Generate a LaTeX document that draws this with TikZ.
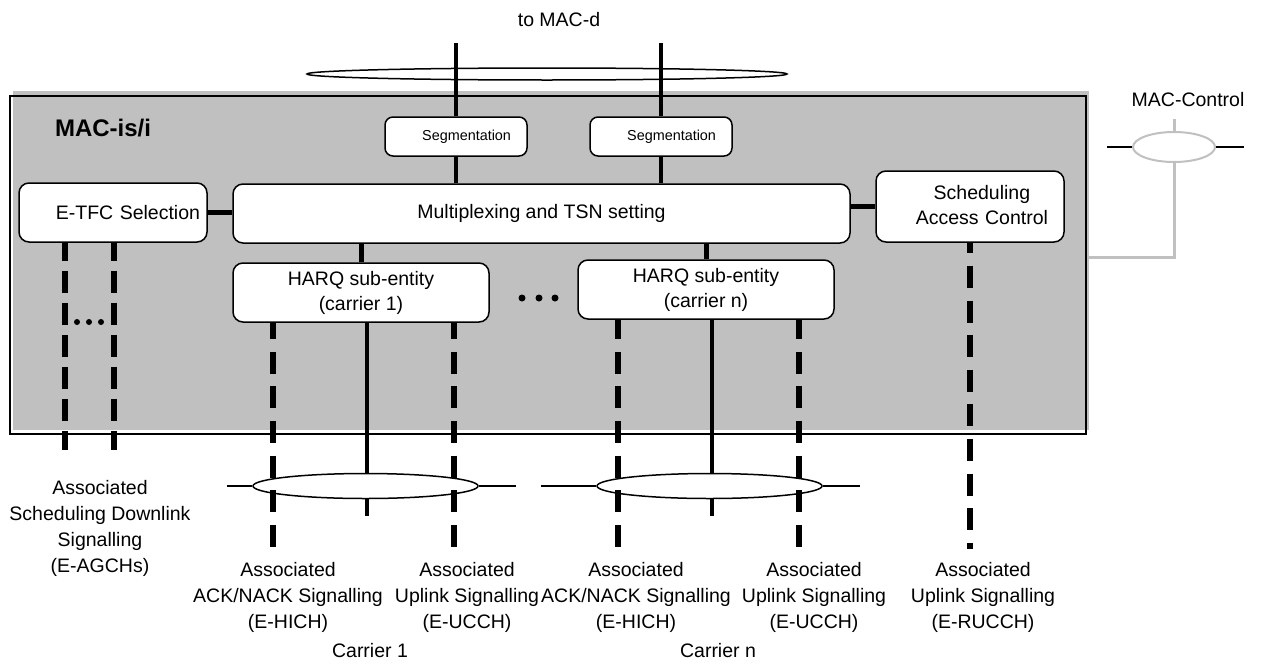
\documentclass[tikz,border=0pt]{standalone}
\usepackage{fontspec}
\setmainfont{Liberation Sans}
\usetikzlibrary{shapes.geometric}
\definecolor{macgray}{RGB}{192,192,192}

\tikzset{
  mbox/.style={draw, rounded corners=5pt, line width=0.75pt, fill=white, align=center, inner sep=0pt, font=\fontsize{9.75}{12.5}\selectfont},
  mseg/.style={draw, rounded corners=4pt, line width=0.75pt, fill=white, text width=55pt, align=right, inner xsep=8pt, inner ysep=0pt, minimum height=19.5pt, font=\fontsize{7.2}{9}\selectfont},
  mbus/.style={draw, ellipse, fill=white, line width=0.75pt, inner sep=0pt},
  mline/.style={line width=2pt},
  mlink/.style={line width=2.5pt},
  msig/.style={line width=3pt, dash pattern=on 11pt off 6.3pt},
  mtap/.style={line width=1pt},
  mctl/.style={macgray, line width=1.5pt},
  mlab/.style={align=center, font=\fontsize{9.75}{13}\selectfont}
}

\begin{document}
\begin{tikzpicture}[x=0.5pt,y=-0.5pt]
  \useasboundingbox (0,0) rectangle (1261,664);

  \fill[macgray] (13,91) rectangle (1089,430);
  \draw[line width=1pt] (10,96) rectangle (1086,434);
  \node[anchor=west, font=\fontsize{12}{14}\selectfont\bfseries] (title) at (48,128) {MAC-is/i};

  \node[mlab] (macd) at (559,20) {to MAC-d};
  \coordinate (dtop) at (559,43);
  \node[mbus, minimum width=240pt, minimum height=6pt] (dbus) at (547,74) {};

  \node[mseg] (seg1) at (456,136.5) {Segmentation};
  \node[mseg] (seg2) at (661,136.5) {Segmentation};
  \node[mbox, minimum width=308.5pt, minimum height=29.5pt] (mux) at (541.5,213.5) {Multiplexing and TSN setting};
  \node[mbox, text width=87pt, align=right, inner xsep=3.5pt, minimum height=29.5pt] (etfc) at (113,212.5) {E-TFC Selection};
  \node[mbox, text width=78pt, align=right, inner xsep=8pt, minimum height=35.5pt] (sac) at (970,206.5)
    {\begin{tabular}{@{}c@{}}Scheduling\\Access Control\end{tabular}};
  \node[mbox, minimum width=128pt, minimum height=29.5pt] (harq1) at (361,292.5) {HARQ sub-entity\\(carrier 1)};
  \node[mbox, minimum width=128pt, minimum height=29.5pt] (harqn) at (706,289.5) {HARQ sub-entity\\(carrier n)};

  \foreach \s in {seg1,seg2} {
    \draw[mline] (\s.north) -- (\s.north |- dtop);
    \draw[mline] (\s.south) -- (\s.south |- mux.north);
  }
  \draw[mlink] (etfc.east) -- (etfc.east -| mux.west);
  \draw[mlink] (sac.west -| mux.east) -- (sac.west);
  \draw[mlink] (harq1.north) -- (harq1.north |- mux.south);
  \draw[mlink] (harqn.north) -- (harqn.north |- mux.south);

  \foreach \x in {522,539,555} \fill (\x,298) circle (1.75pt);
  \foreach \x in {77,89,101} \fill (\x,322) circle (1.5pt);

  \draw[mline] ([xshift=3pt]harq1.south) -- ++(0,193);
  \draw[mline] ([xshift=3pt]harqn.south) -- ++(0,196);
  \node[mbus, minimum width=112.5pt, minimum height=12.5pt] (c1bus) at (365.5,486) {};
  \node[mbus, minimum width=112.5pt, minimum height=12.5pt] (cnbus) at (709.5,486) {};
  \draw[mtap] (c1bus.west) -- ++(-25,0);
  \draw[mtap] (c1bus.east) -- ++(37,0);
  \draw[mtap] (cnbus.west) -- ++(-55,0);
  \draw[mtap] (cnbus.east) -- ++(37,0);

  \foreach \s in {-24pt,0.5pt} \draw[msig, dash pattern=on 11pt off 5pt, dash phase=2pt] ([xshift=\s]etfc.south) -- ++(0,207);
  \foreach \s in {-44pt,46.5pt} {
    \draw[msig, dash phase=2.8pt] ([xshift=\s]harq1.south) -- ++(0,224);
    \draw[msig, dash phase=1.3pt] ([xshift=\s]harqn.south) -- ++(0,227);
  }
  \draw[msig, dash phase=5.7pt] (sac.south) -- ++(0,306);

  \node[mlab] (ctl) at (1188,100) {MAC-Control};
  \node[mbus, draw=macgray, line width=1pt, minimum width=41pt, minimum height=15pt] (cbus) at (1174,147) {};
  \coordinate (macr) at (1089,257);
  \draw[mtap] (cbus.west) -- ++(-25,0);
  \draw[mtap] (cbus.east) -- ++(28,0);
  \draw[mctl] (cbus.north) -- ++(0,-12);
  \draw[mctl] (macr) -| (cbus.south);

  \node[mlab] (agch) at (100,528) {Associated\\Scheduling Downlink\\Signalling\\(E-AGCHs)};
  \node[mlab] (hich1) at (288,597) {Associated\\ACK/NACK Signalling\\(E-HICH)};
  \node[mlab] (ucch1) at (467,597) {Associated\\Uplink Signalling\\(E-UCCH)};
  \node[mlab] (hichn) at (636,597) {Associated\\ACK/NACK Signalling\\(E-HICH)};
  \node[mlab] (ucchn) at (814,597) {Associated\\Uplink Signalling\\(E-UCCH)};
  \node[mlab] (rucch) at (983,597) {Associated\\Uplink Signalling\\(E-RUCCH)};
  \node[mlab] (car1) at (370,651) {Carrier 1};
  \node[mlab] (carn) at (718,651) {Carrier n};
\end{tikzpicture}
\end{document}
